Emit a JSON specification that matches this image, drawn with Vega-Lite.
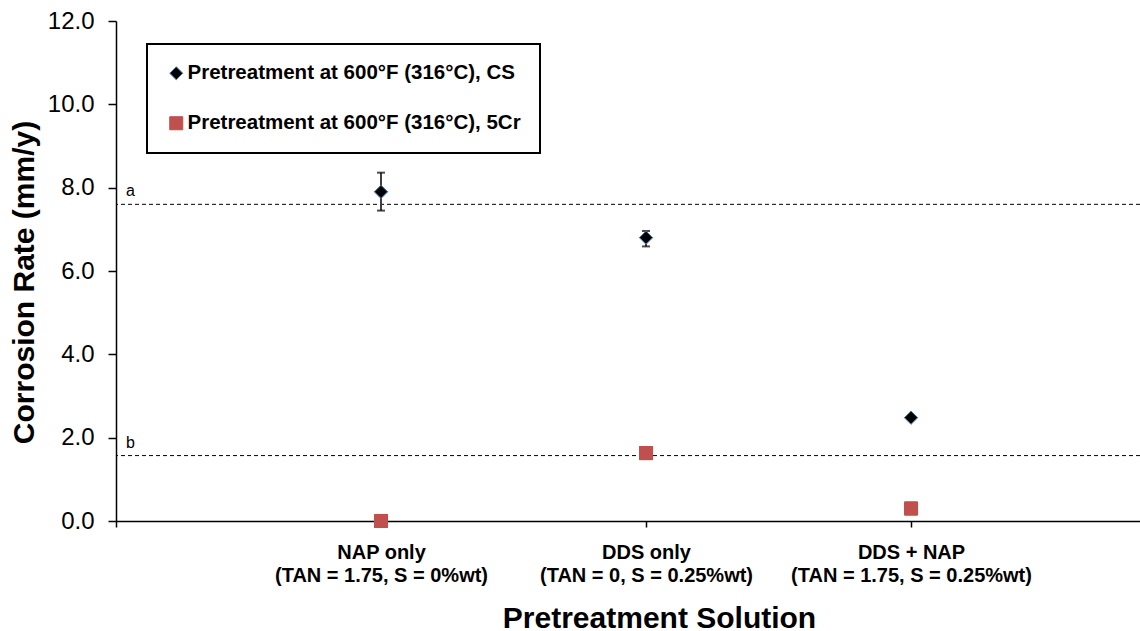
{
  "$schema": "https://vega.github.io/schema/vega-lite/v6.json",
  "width": 1024,
  "height": 500,
  "autosize": {"type": "none"},
  "padding": {"left": 116, "top": 21, "right": 0, "bottom": 110},
  "background": "white",
  "config": {
    "view": {"stroke": null},
    "font": "Liberation Sans",
    "legend": {"strokeWidth": 2},
    "axis": {
      "grid": false,
      "domainColor": "black",
      "domainWidth": 1.5,
      "tickColor": "black",
      "tickWidth": 1.5,
      "labelColor": "black",
      "titleColor": "black",
      "labelFont": "Liberation Sans",
      "titleFont": "Liberation Sans"
    }
  },
  "datasets": {
    "pts": [
      {"pos": 1, "series": "Pretreatment at 600°F (316°C), CS", "rate": 7.9, "lo": 7.45, "hi": 8.36},
      {"pos": 2, "series": "Pretreatment at 600°F (316°C), CS", "rate": 6.8, "lo": 6.59, "hi": 6.96},
      {"pos": 3, "series": "Pretreatment at 600°F (316°C), CS", "rate": 2.48},
      {"pos": 1, "series": "Pretreatment at 600°F (316°C), 5Cr", "rate": 0.0},
      {"pos": 2, "series": "Pretreatment at 600°F (316°C), 5Cr", "rate": 1.63},
      {"pos": 3, "series": "Pretreatment at 600°F (316°C), 5Cr", "rate": 0.3}
    ],
    "refs": [
      {"label": "a", "rate": 7.6},
      {"label": "b", "rate": 1.57}
    ]
  },
  "layer": [
    {
      "data": {"name": "pts"},
      "mark": {"type": "point", "filled": true, "opacity": 1, "size": 170, "strokeWidth": 1},
      "encoding": {
        "x": {
          "field": "pos",
          "type": "quantitative",
          "scale": {"domain": [0, 3.864], "nice": false, "zero": false},
          "axis": {
            "values": [0, 1, 2, 3],
            "tickSize": 6,
            "labelExpr": "datum.value == 1 ? ['NAP only', '(TAN = 1.75, S = 0%wt)'] : datum.value == 2 ? ['DDS only', '(TAN = 0, S = 0.25%wt)'] : datum.value == 3 ? ['DDS + NAP', '(TAN = 1.75, S = 0.25%wt)'] : ''",
            "labelFontSize": 20,
            "labelFontWeight": "bold",
            "labelLineHeight": 23,
            "labelPadding": 15,
            "labelLimit": 0,
            "labelOverlap": false,
            "labelBound": false,
            "labelFlush": false,
            "title": "Pretreatment Solution",
            "titleFontSize": 30,
            "titleFontWeight": "bold",
            "titlePadding": 18,
            "titleX": 543
          }
        },
        "y": {
          "field": "rate",
          "type": "quantitative",
          "scale": {"domain": [0, 12], "nice": false},
          "axis": {
            "values": [0, 2, 4, 6, 8, 10, 12],
            "format": ".1f",
            "tickSize": 8,
            "labelFontSize": 24,
            "labelPadding": 14,
            "title": "Corrosion Rate (mm/y)",
            "titleFontSize": 30,
            "titleFontWeight": "bold",
            "titlePadding": 8,
            "titleY": 261
          }
        },
        "shape": {
          "field": "series",
          "type": "nominal",
          "scale": {"domain": ["Pretreatment at 600°F (316°C), CS", "Pretreatment at 600°F (316°C), 5Cr"], "range": ["diamond", "square"]},
          "legend": {
            "orient": "none",
            "legendX": 31,
            "legendY": 23,
            "title": null,
            "padding": 19,
            "rowPadding": 29,
            "labelFontSize": 20.5,
            "labelFontWeight": "bold",
            "labelColor": "black",
            "labelLimit": 0,
            "labelOffset": 1,
            "strokeColor": "black",
            "fillColor": "white",
            "symbolSize": 170,
            "symbolStrokeWidth": 1
          }
        },
        "color": {
          "field": "series",
          "type": "nominal",
          "scale": {"domain": ["Pretreatment at 600°F (316°C), CS", "Pretreatment at 600°F (316°C), 5Cr"], "range": ["black", "#c0504d"]}
        },
        "stroke": {
          "field": "series",
          "type": "nominal",
          "scale": {"domain": ["Pretreatment at 600°F (316°C), CS", "Pretreatment at 600°F (316°C), 5Cr"], "range": ["#4a7ebb", "#c0504d"]}
        }
      }
    },
    {
      "data": {"name": "refs"},
      "mark": {"type": "rule", "strokeDash": [4, 3], "color": "black", "strokeWidth": 1},
      "encoding": {"y": {"field": "rate", "type": "quantitative"}}
    },
    {
      "data": {"name": "refs"},
      "mark": {"type": "text", "align": "left", "baseline": "bottom", "dx": 10, "dy": -5, "fontSize": 16, "color": "black"},
      "encoding": {
        "x": {"datum": 0, "type": "quantitative"},
        "y": {"field": "rate", "type": "quantitative"},
        "text": {"field": "label"}
      }
    },
    {
      "mark": {"type": "rule", "color": "black", "strokeWidth": 1.5},
      "encoding": {"y": {"datum": 12}}
    },
    {
      "data": {"name": "pts"},
      "transform": [{"filter": "isValid(datum.lo)"}],
      "mark": {"type": "rule", "color": "#404040", "strokeWidth": 2},
      "encoding": {
        "x": {"field": "pos", "type": "quantitative"},
        "y": {"field": "lo", "type": "quantitative"},
        "y2": {"field": "hi"}
      }
    },
    {
      "data": {"name": "pts"},
      "transform": [{"filter": "isValid(datum.lo)"}],
      "mark": {"type": "tick", "orient": "horizontal", "color": "black", "size": 8, "thickness": 2},
      "encoding": {
        "x": {"field": "pos", "type": "quantitative"},
        "y": {"field": "lo", "type": "quantitative"}
      }
    },
    {
      "data": {"name": "pts"},
      "transform": [{"filter": "isValid(datum.hi)"}],
      "mark": {"type": "tick", "orient": "horizontal", "color": "black", "size": 8, "thickness": 2},
      "encoding": {
        "x": {"field": "pos", "type": "quantitative"},
        "y": {"field": "hi", "type": "quantitative"}
      }
    },
    {
      "data": {"name": "pts"},
      "mark": {"type": "point", "filled": true, "opacity": 1, "size": 170, "strokeWidth": 1},
      "encoding": {
        "x": {"field": "pos", "type": "quantitative"},
        "y": {"field": "rate", "type": "quantitative"},
        "shape": {"field": "series", "type": "nominal"},
        "color": {"field": "series", "type": "nominal"},
        "stroke": {"field": "series", "type": "nominal"}
      }
    }
  ]
}
